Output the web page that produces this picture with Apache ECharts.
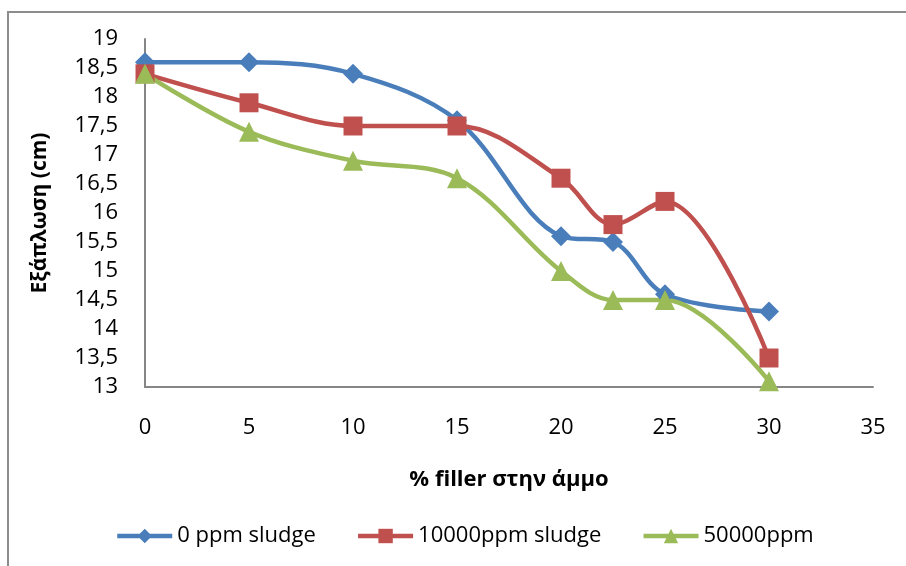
<!DOCTYPE html>
<html>
<head>
<meta charset="utf-8">
<script src="https://cdn.jsdelivr.net/npm/echarts@6/dist/echarts.min.js"></script>
<style>
  html, body { margin: 0; padding: 0; background: #fff; }
  #chart { width: 906px; height: 566px; }
</style>
</head>
<body>
<div id="chart"></div>
<script>
// % filler in sand (x) and spread in cm (y) for three sludge dosages
const fillerPct = [0, 5, 10, 15, 20, 22.5, 25, 30];
const spread0ppm = [18.6, 18.6, 18.4, 17.6, 15.6, 15.5, 14.6, 14.3];
const spread10000ppm = [18.4, 17.9, 17.5, 17.5, 16.6, 15.8, 16.2, 13.5];
const spread50000ppm = [18.4, 17.4, 16.9, 16.6, 15.0, 14.5, 14.5, 13.1];
const seriesNames = ['0 ppm sludge', '10000ppm sludge', '50000ppm'];

const FONT = 'Open Sans';
const pair = (ys) => fillerPct.map((x, i) => [x, ys[i]]);

function lineSeries(name, ys, color, symbol, size) {
  return {
    name: name,
    type: 'line',
    data: pair(ys),
    smooth: 0.35,
    symbol: symbol,
    symbolSize: size,
    lineStyle: { color: color, width: 4.5 },
    itemStyle: { color: color },
    emphasis: { disabled: true }
  };
}

const chart = echarts.init(document.getElementById('chart'));
chart.setOption({
  animation: false,
  backgroundColor: '#fff',
  graphic: [{
    type: 'rect',
    shape: { x: 8, y: 12, width: 1200, height: 1000 },
    style: { fill: 'none', stroke: '#8c8c8c', lineWidth: 2 },
    silent: true
  }],
  grid: { left: 145, right: 33, top: 39, bottom: 179 },
  xAxis: {
    type: 'value',
    min: 0, max: 35, interval: 5,
    name: '% filler στην άμμο',
    nameLocation: 'middle',
    nameGap: 82,
    nameTextStyle: { fontFamily: FONT, fontSize: 22, fontWeight: 'bold', color: '#000' },
    axisLine: { lineStyle: { color: '#868686', width: 2 } },
    axisTick: { show: false },
    splitLine: { show: false },
    axisLabel: { margin: 30, fontFamily: FONT, fontSize: 22, color: '#000' }
  },
  yAxis: {
    type: 'value',
    min: 13, max: 19, interval: 0.5,
    name: 'Εξάπλωση (cm)',
    nameLocation: 'middle',
    nameGap: 94,
    nameTextStyle: { fontFamily: FONT, fontSize: 21, fontWeight: 'bold', color: '#000' },
    axisLine: { show: true, lineStyle: { color: '#868686', width: 2 } },
    axisTick: { show: false },
    splitLine: { show: false },
    axisLabel: {
      margin: 27, fontFamily: FONT, fontSize: 22, color: '#000',
      formatter: (v) => String(v).replace('.', ',')
    }
  },
  legend: {
    bottom: 14,
    left: 110,
    itemWidth: 55,
    itemHeight: 18,
    itemGap: 40,
    lineStyle: { width: 4.5 },
    textStyle: { fontFamily: FONT, fontSize: 22, color: '#000' },
    data: seriesNames
  },
  series: [
    lineSeries(seriesNames[0], spread0ppm, '#4a7ebb', 'diamond', 20),
    lineSeries(seriesNames[1], spread10000ppm, '#c0504d', 'rect', 19),
    lineSeries(seriesNames[2], spread50000ppm, '#9bbb59', 'triangle', 20)
  ]
});
</script>
</body>
</html>
